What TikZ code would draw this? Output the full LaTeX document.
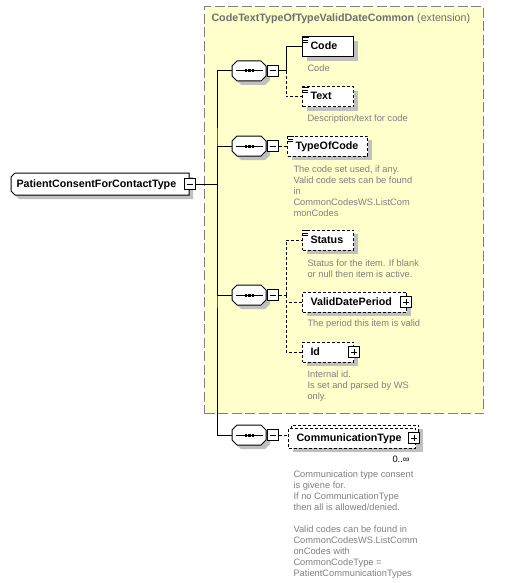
\documentclass[tikz,border=0pt]{standalone}
\usepackage{fontspec}
\setmainfont{Liberation Sans}
\definecolor{extyellow}{RGB}{255, 255, 204}
\definecolor{extborder}{RGB}{128, 128, 128}
\definecolor{descgray}{RGB}{128, 128, 128}
\definecolor{titlegray}{RGB}{110, 110, 110}
\definecolor{shadowgray}{RGB}{192, 192, 192}
\usetikzlibrary{shadows, calc}
\newcommand{\elemfont}{\fontsize{10.7}{12}\selectfont\bfseries}
\newcommand{\descfont}{\fontsize{9.3}{11}\selectfont}
\newcommand{\docmark}[1]{\draw[line width=0.8pt] (#1.north west) ++(1,1.2) -- ++(6,0) ++(-6,2.3) -- ++(5,0) ++(-5,2.3) -- ++(5,0);}
\newcommand{\seqshape}{(5,-10) -- (29,-10) -- (34,-5) -- (34,5) -- (29,10) -- (5,10) -- (0,5) -- (0,-5) -- cycle}
\newcommand{\rootshape}{(4,-11) -- (178,-11) -- (178,11) -- (4,11) -- (0,7) -- (0,-7) -- cycle}

\begin{document}
\begin{tikzpicture}[x=1pt, y=-1pt, line width=1pt,
  boxshadow/.style={drop shadow={shadow xshift=4pt, shadow yshift=-4pt, fill=shadowgray, opacity=1}},
  elem/.style={draw, fill=white, font=\elemfont, minimum height=20pt, inner xsep=8pt, inner ysep=0pt,
    text height=8pt, text depth=2pt, text width=#1, align=left, anchor=west, boxshadow},
  optelem/.style={elem=#1, dash pattern=on 3pt off 2pt},
  optconn/.style={dash pattern=on 3pt off 2pt},
  desc/.style={font=\descfont, text=descgray, anchor=north west, align=left, inner sep=0pt},
  seq/.style={minimum width=34pt, minimum height=20pt, inner sep=0pt, anchor=west},
  minusbox/.style={draw, fill=white, minimum size=10.5pt, inner sep=0pt,
    drop shadow={shadow xshift=1pt, shadow yshift=-1pt, fill=black, opacity=1},
    path picture={
      \draw ([xshift=2pt]path picture bounding box.west) -- ([xshift=-2pt]path picture bounding box.east);
    }},
  plusbox/.style={minusbox,
    path picture={
      \draw ([xshift=2pt]path picture bounding box.west) -- ([xshift=-2pt]path picture bounding box.east);
      \draw ([yshift=-2pt]path picture bounding box.north) -- ([yshift=2pt]path picture bounding box.south);
    }}
]
  \useasboundingbox (0,0) rectangle (525,583);

  % Extension container
  \node[draw=extborder, fill=extyellow, dash pattern=on 10pt off 3.5pt, line width=1.2pt, inner sep=0pt,
    minimum width=279pt, minimum height=407pt, anchor=north west] (ext) at (204,6) {};
  \node[font=\elemfont, text=titlegray, anchor=base west, inner sep=0pt] (exttitle) at (211,22)
    {CodeTextTypeOfTypeValidDateCommon \mdseries(extension)};

  % Root type
  \fill[shadowgray, shift={(15,188)}] \rootshape;
  \draw[fill=white, shift={(11,184)}] \rootshape;
  \node[font=\elemfont, minimum height=22pt, minimum width=178pt, inner xsep=5pt, inner ysep=0pt,
    text height=8pt, text depth=2pt, text width=168pt, align=left, anchor=west] (root) at (11,184)
    {PatientConsentForContactType};
  \node[minusbox] (rootm) at (root.east) {};

  % Sequences
  \foreach \sname/\sy in {s1/71, s2/146, s3/295, s4/435} {
    \fill[shadowgray, shift={(236,\sy+4)}] \seqshape;
    \draw[fill=white, shift={(232,\sy)}] \seqshape;
    \node[seq] (\sname) at (232,\sy) {};
    \draw ($(\sname.west)+(4,0)$) -- ($(\sname.east)+(-4,0)$);
    \foreach \dx in {-3.5, 0, 3.5}
      \fill ($(\sname.center)+(\dx,0)$) +(-1.3,-1.5) rectangle +(1.3,1.5);
    \node[minusbox, anchor=west] (\sname m) at (\sname.east) {};
  }

  % Elements
  \node[elem=35pt] (code) at (302,47) {Code};
  \node[optelem=35pt] (text) at (302,97) {Text};
  \node[optelem=64pt] (toc) at (287,146) {TypeOfCode};
  \node[optelem=35pt] (status) at (302,240) {Status};
  \node[optelem=88pt] (vdp) at (302,302) {ValidDatePeriod};
  \node[plusbox] (vdpp) at ([xshift=-1pt]vdp.east) {};
  \node[optelem=35pt] (id) at (302,352) {Id};
  \node[plusbox] (idp) at (id.east) {};
  \node[optelem=111pt, drop shadow={shadow xshift=4pt, shadow yshift=-7pt, fill=shadowgray, opacity=1}] (commback) at (291,435) {};
  \node[optelem=111pt, drop shadow={opacity=0}] (comm) at (288,438) {CommunicationType};
  \node[plusbox] (commp) at ([xshift=-2pt]comm.east) {};
  \node[font=\descfont, anchor=base east, inner sep=0pt] (commocc) at (410,462) {0..∞};
  \docmark{code}
  \docmark{text}
  \docmark{toc}
  \docmark{status}

  % Descriptions
  \node[desc] (codedesc) at (307,64.5) {Code};
  \node[desc] (textdesc) at (307,114.5) {Description/text for code};
  \node[desc] (tocdesc) at (293,165.5) {The code set used, if any.\\Valid code sets can be found\\in\\CommonCodesWS.ListCom\\monCodes};
  \node[desc] (statusdesc) at (307,259.5) {Status for the item. If blank\\or null then item is active.};
  \node[desc] (vdpdesc) at (307,319.5) {The period this item is valid};
  \node[desc] (iddesc) at (307,370.5) {Internal id.\\Is set and parsed by WS\\only.};
  \node[desc] (commdesc) at (293,470.5) {Communication type consent\\is givene for.\\If no CommunicationType\\then all is allowed/denied.\\[11pt]Valid codes can be found in\\CommonCodesWS.ListComm\\onCodes with\\CommonCodeType =\\PatientCommunicationTypes};

  % Connectors
  \coordinate (trunk) at (217,184);
  \draw (rootm.east) -- (trunk);
  \draw (s1.west) -| (trunk) |- (s4.west);
  \draw (trunk) |- (s2.west);
  \draw (trunk) |- (s3.west);
  \coordinate (b1) at (286,71);
  \draw (s1m.east) -- (b1) |- (code.west);
  \draw[optconn] (b1) |- (text.west);
  \draw[optconn] (s2m.east) -- (toc.west);
  \coordinate (b3) at (286,295);
  \draw[optconn] (s3m.east) -- (b3);
  \draw[optconn] (b3) |- (status.west);
  \draw[optconn] (b3) |- (vdp.west);
  \draw[optconn] (b3) |- (id.west);
  \draw[optconn] (s4m.east) -- (s4m.east -| comm.west);
\end{tikzpicture}
\end{document}
